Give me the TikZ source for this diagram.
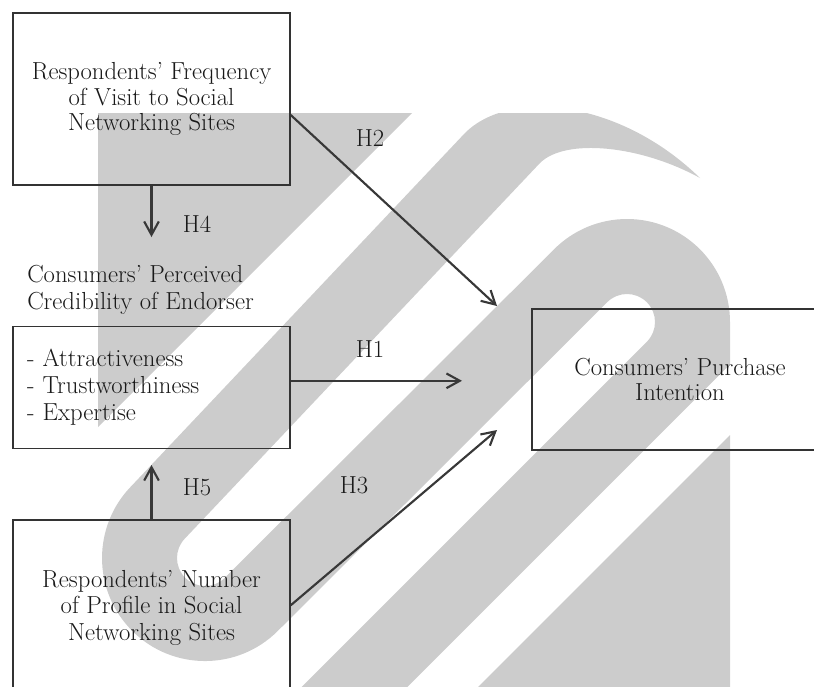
\documentclass[tikz,border=0pt]{standalone}
\usetikzlibrary{arrows.meta, positioning}
\newcommand{\diagfont}{\fontsize{18.5}{19.2}\selectfont}
\newcommand{\listfont}{\fontsize{18.5}{20.2}\selectfont}

\begin{document}
\begin{tikzpicture}[
  x=0.75pt, y=-0.75pt,
  box/.style={rectangle, draw=black!80, line width=1.1pt, minimum width=207.75pt, align=center, font=\diagfont, text=black!90},
  hyp/.style={font=\diagfont, text=black!90, inner sep=0pt},
  arrow/.style={-{Straight Barb[length=10pt,width=11pt]}, line width=1.6pt, draw=black!78},
  wmark/.style={fill=black!20}
]
  \useasboundingbox (0,0) rectangle (814,686);
  \clip (0,0) rectangle (814,686);

  % watermark
  \begin{scope}
    \clip (98,113) rectangle (730,686);
    \fill[wmark] (98,113) -- (412,113) -- (98,427) -- cycle;
    \fill[wmark] (730,435) -- (730,700) -- (465,700) -- cycle;
    \fill[wmark] (700,178) .. controls (620,100) and (510,88) .. (465,133)
      -- (132.2,485.2) arc[start angle=225, end angle=45, radius=103]
      -- (607.2,302.2) arc[start angle=225, end angle=405, radius=28]
      -- (228.6,760) -- (334.4,760) -- (730,364.4) -- (730,322)
      arc[start angle=0, end angle=-135, radius=103]
      -- (224.8,577.8) arc[start angle=45, end angle=225, radius=28]
      -- (540,163) .. controls (565,138) and (640,145) .. (700,178) -- cycle;
  \end{scope}

  \node[box, minimum height=129pt] (freq) at (151.5,99) {Respondents' Frequency\\of Visit to Social\\Networking Sites};
  \node[box, align=left, font=\listfont, text width=186.75pt, inner xsep=10.5pt, minimum height=91.5pt, below=105pt of freq] (cred) {- Attractiveness\\- Trustworthiness\\- Expertise};
  \node[box, font=\listfont, minimum height=132pt, below=52.5pt of cred] (prof) {Respondents' Number\\of Profile in Social\\Networking Sites};
  \node[box, minimum width=222pt, minimum height=105.75pt] (intent) at (680,379.5) {Consumers' Purchase\\Intention};
  \node[hyp, anchor=west, align=left, font=\listfont] (credtitle) at (27,290) {Consumers' Perceived\\Credibility of Endorser};

  \coordinate (h4tip) at (151.5,237);
  \coordinate (h5tip) at (151.5,465);
  \coordinate (h2tip) at (497,306);
  \coordinate (h3tip) at (497,430);
  \coordinate (h1start) at ([yshift=5pt]cred.east);
  \coordinate (h1x) at (462,0);
  \coordinate (h1tip) at (h1start -| h1x);

  \draw[arrow] (freq.south) -- (h4tip);
  \draw[arrow] (prof.north) -- (h5tip);
  \draw[arrow] ([yshift=-12pt]freq.east) -- (h2tip);
  \draw[arrow] (h1start) -- (h1tip);
  \draw[arrow] ([yshift=2pt]prof.east) -- (h3tip);

  \node[hyp] (lh2) at (370,138) {H2};
  \node[hyp] (lh4) at (197,224) {H4};
  \node[hyp] (lh1) at (370,349) {H1};
  \node[hyp] (lh5) at (197,487) {H5};
  \node[hyp] (lh3) at (354,485) {H3};
\end{tikzpicture}
\end{document}
